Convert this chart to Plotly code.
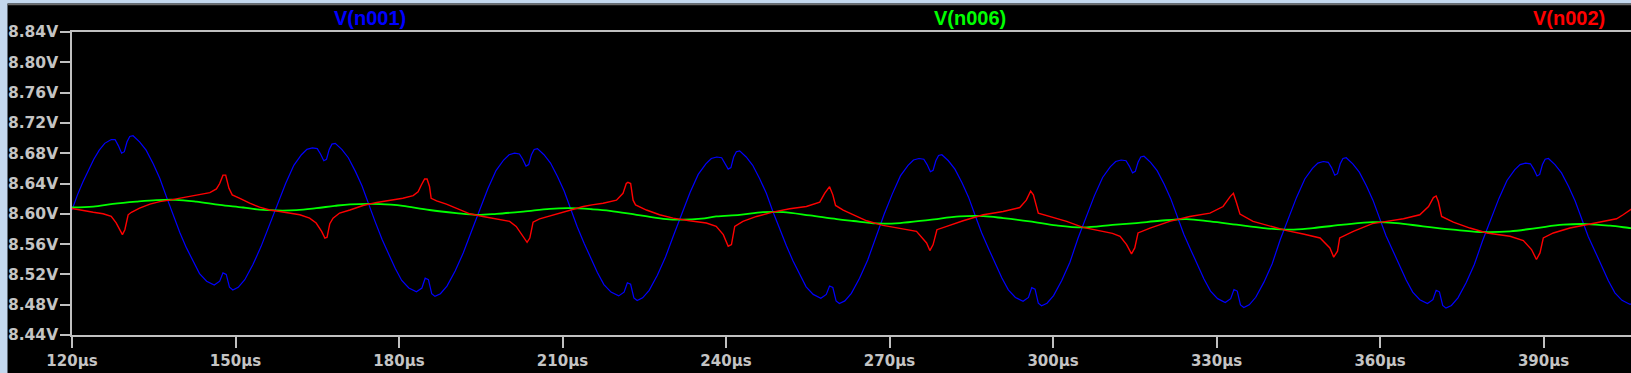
import plotly.graph_objects as go

# ---------------- data ----------------
blue_t = [120.0,121.0,122.0,123.0,124.0,125.0,126.0,
127.2,127.9,128.5,129.1,129.6,130.1,130.6,131.2,132.4,133.6,134.9,136.1,137.3,138.5,139.8,141.0,142.2,143.4,144.7,146.1,147.1,147.7,148.3,148.9,149.5,150.5,151.7,153.2,154.7,156.2,157.7,159.2,160.7,162.1,163.1,164.1,165.0,165.6,
166.2,166.7,167.2,167.7,168.3,169.5,170.7,172.0,173.2,174.4,175.6,176.9,178.1,179.3,180.5,181.8,183.2,184.2,184.8,185.4,186.0,186.6,187.6,188.8,190.3,191.8,193.3,194.8,196.3,197.8,199.2,200.2,201.2,202.1,202.7,
203.3,203.8,204.3,204.8,205.4,206.6,207.8,209.1,210.3,211.5,212.7,214.0,215.2,216.4,217.6,218.9,220.3,221.3,221.9,222.5,223.1,223.7,224.7,225.9,227.4,228.9,230.4,231.9,233.4,234.9,236.3,237.3,238.3,239.2,239.8,
240.4,240.9,241.4,241.9,242.5,243.7,244.9,246.2,247.4,248.6,249.8,251.1,252.3,253.5,254.7,256.0,257.4,258.4,259.0,259.6,260.2,260.8,261.8,263.0,264.5,266.0,267.5,269.0,270.5,272.0,273.4,274.4,275.4,276.3,276.9,
277.5,278.0,278.5,279.0,279.6,280.8,282.0,283.3,284.5,285.7,286.9,288.2,289.4,290.6,291.8,293.1,294.5,295.5,296.1,296.7,297.3,297.9,298.9,300.1,301.6,303.1,304.6,306.1,307.6,309.1,310.5,311.5,312.5,313.4,314.0,
314.6,315.1,315.6,316.1,316.7,317.9,319.1,320.4,321.6,322.8,324.0,325.3,326.5,327.7,328.9,330.2,331.6,332.6,333.2,333.8,334.4,335.0,336.0,337.2,338.7,340.2,341.7,343.2,344.7,346.2,347.6,348.6,349.6,350.5,351.1,
351.7,352.2,352.7,353.2,353.8,355.0,356.2,357.5,358.7,359.9,361.1,362.4,363.6,364.8,366.0,367.3,368.7,369.7,370.3,370.9,371.5,372.1,373.1,374.3,375.8,377.3,378.8,380.3,381.8,383.3,384.7,385.7,386.7,387.6,388.2,
388.8,389.3,389.8,390.3,390.9,392.1,393.3,394.6,395.8,397.0,398.2,399.5,400.7,401.9,403.1,404.4,405.8,406.5]

blue_v = [8.605,8.625,8.642,8.657,8.672,8.684,8.693,
8.698,8.698,8.690,8.680,8.682,8.695,8.702,8.703,8.695,8.684,8.666,8.647,8.623,8.600,8.575,8.555,8.537,8.521,8.511,8.506,8.511,8.522,8.520,8.503,8.4995,8.503,8.513,8.533,8.557,8.584,8.613,8.640,8.664,8.678,8.685,8.687,8.686,8.679,
8.670,8.672,8.685,8.692,8.693,8.685,8.674,8.656,8.637,8.613,8.590,8.566,8.546,8.528,8.512,8.502,8.497,8.502,8.515,8.513,8.4945,8.491,8.4945,8.5045,8.5245,8.5485,8.577,8.606,8.633,8.657,8.671,8.678,8.680,8.679,8.672,
8.663,8.665,8.678,8.685,8.686,8.678,8.667,8.649,8.630,8.606,8.583,8.5606,8.5406,8.5226,8.5066,8.4966,8.4916,8.4966,8.509,8.507,8.489,8.4855,8.489,8.499,8.519,8.543,8.572,8.601,8.628,8.652,8.666,8.673,8.675,8.674,8.667,
8.659,8.661,8.675,8.682,8.683,8.675,8.664,8.646,8.627,8.603,8.580,8.5576,8.5376,8.5196,8.5036,8.4936,8.4886,8.4936,8.5047,8.5027,8.485,8.4816,8.485,8.495,8.515,8.539,8.570,8.599,8.626,8.650,8.664,8.671,8.673,8.672,8.665,
8.6555,8.6575,8.670,8.677,8.678,8.670,8.659,8.641,8.622,8.598,8.575,8.5536,8.5336,8.5156,8.4996,8.4896,8.4846,8.4896,8.5025,8.5005,8.482,8.4785,8.482,8.492,8.512,8.536,8.568,8.597,8.624,8.648,8.662,8.669,8.671,8.670,8.663,
8.654,8.656,8.668,8.675,8.676,8.668,8.657,8.639,8.620,8.596,8.573,8.552,8.532,8.514,8.498,8.488,8.483,8.488,8.500,8.498,8.4798,8.4763,8.4798,8.4898,8.5098,8.5338,8.566,8.595,8.622,8.646,8.660,8.667,8.669,8.668,8.661,
8.651,8.653,8.666,8.673,8.674,8.666,8.655,8.637,8.618,8.594,8.571,8.5506,8.5306,8.5126,8.4966,8.4866,8.4816,8.4866,8.499,8.497,8.479,8.4755,8.479,8.489,8.509,8.533,8.564,8.593,8.620,8.644,8.658,8.665,8.667,8.666,8.659,
8.650,8.652,8.665,8.672,8.673,8.665,8.654,8.636,8.617,8.593,8.570,8.5497,8.5297,8.5117,8.4957,8.4857,8.4807,8.481]

red_t = [120.0,122.0,123.9,125.7,127.2,128.1,128.75,129.25,129.7,130.3,130.9,132.4,134.3,136.1,137.9,139.8,141.6,143.4,145.3,146.5,147.1,147.7,148.2,148.8,149.4,150.8,152.6,154.4,156.3,158.1,159.9,161.8,163.6,164.8,165.8,166.4,166.8,167.3,167.9,169.1,171.0,173.4,175.9,178.3,180.7,182.6,183.5,184.1,184.7,185.15,185.6,185.9,186.9,188.7,190.5,193.0,195.4,197.9,200.3,201.5,202.5,203.5,204.0,204.6,205.8,208.9,211.3,213.8,215.4,217.45,219.9,221.1,221.7,222.0,222.5,222.95,223.4,225.4,227.8,230.3,233.3,236.4,238.2,239.5,240.4,241.0,241.6,243.1,245.6,248.6,251.7,254.75,257.2,258.1,259.0,259.6,260.1,261.5,263.2,265.8,268.8,271.9,274.95,276.8,277.4,278.0,278.7,280.5,283.5,287.2,290.85,293.9,295.1,295.9,296.4,297.3,299.4,302.5,305.5,308.6,310.9,312.3,313.5,314.4,315.0,315.6,317.8,321.4,325.1,328.8,331.2,332.5,333.1,333.7,334.3,336.7,339.8,342.9,345.9,349.0,350.8,351.5,352.2,352.6,355.1,358.6,361.2,364.3,367.3,368.9,369.8,370.3,370.7,371.3,373.45,376.5,379.6,383.85,386.3,387.8,388.7,389.35,389.96,391.8,394.85,397.9,401.0,403.4,404.6,405.9,406.3]

red_v = [8.607,8.604,8.602,8.600,8.5965,8.588,8.579,8.5725,8.579,8.5987,8.602,8.6074,8.6127,8.616,8.618,8.6205,8.6227,8.625,8.628,8.6328,8.640,8.651,8.651,8.6336,8.625,8.6205,8.614,8.6087,8.605,8.603,8.601,8.5987,8.5943,8.5878,8.5768,8.568,8.569,8.587,8.5943,8.601,8.605,8.611,8.615,8.6175,8.6205,8.624,8.629,8.638,8.646,8.646,8.636,8.6205,8.617,8.6127,8.6074,8.600,8.5965,8.5934,8.590,8.5834,8.5725,8.5624,8.568,8.589,8.5934,8.5996,8.605,8.6096,8.6118,8.614,8.618,8.627,8.640,8.6415,8.640,8.618,8.6118,8.605,8.5987,8.5943,8.5908,8.5878,8.5834,8.5725,8.5572,8.5594,8.5834,8.590,8.5965,8.6022,8.6066,8.6096,8.6153,8.627,8.6358,8.625,8.611,8.605,8.5993,8.5908,8.5847,8.5812,8.5768,8.5615,8.5515,8.5594,8.579,8.5834,8.5908,8.5987,8.603,8.6083,8.618,8.630,8.625,8.6009,8.5965,8.590,8.582,8.5777,8.5742,8.5703,8.5594,8.5471,8.555,8.5747,8.5812,8.590,8.5965,8.6009,8.6096,8.6227,8.627,8.614,8.5996,8.590,8.5834,8.5777,8.5733,8.5681,8.555,8.5428,8.5506,8.5681,8.5768,8.5870,8.590,8.5934,8.5987,8.6096,8.6214,8.6236,8.6162,8.5965,8.5891,8.5812,8.5747,8.5703,8.5646,8.5528,8.5397,8.5484,8.5681,8.5747,8.5812,8.5856,8.5891,8.5934,8.5987,8.6052,8.607]

green_t = [120.0,123.9,127.5,131.8,135.5,139.0,142.8,147.1,151.4,154.4,157.5,161.2,164.8,168.2,171.0,175.0,178.5,180.7,185.6,190.5,194.2,197.9,202.8,207.7,211.3,215.4,218.7,223.6,228.5,232.0,235.5,238.2,242.5,246.8,250.5,255.4,260.3,263.4,267.6,271.9,277.4,282.9,287.2,290.85,295.75,300.6,305.5,310.9,315.3,319.6,324.5,328.8,333.7,338.6,343.5,347.7,353.3,358.6,363.05,367.9,373.45,378.3,383.85,388.7,393.6,397.9,402.2,405.9,406.3]

green_v = [8.6085,8.6096,8.613,8.616,8.618,8.6185,8.616,8.6118,8.6083,8.6055,8.6044,8.6048,8.6074,8.6105,8.6125,8.6132,8.612,8.6105,8.605,8.601,8.5987,8.600,8.603,8.6066,8.6074,8.606,8.604,8.5987,8.5934,8.5922,8.5935,8.5965,8.5987,8.6022,8.6022,8.5978,8.593,8.5905,8.5873,8.5878,8.5921,8.5965,8.5969,8.5943,8.590,8.5847,8.582,8.5853,8.5878,8.5908,8.593,8.590,8.5856,8.5812,8.579,8.5812,8.5856,8.589,8.5878,8.5834,8.579,8.576,8.5768,8.5812,8.5856,8.5865,8.5843,8.5812,8.581]

x_ticks = [120, 150, 180, 210, 240, 270, 300, 330, 360, 390]
x_tick_text = ["120µs", "150µs", "180µs", "210µs", "240µs", "270µs", "300µs", "330µs", "360µs", "390µs"]
y_ticks = [8.44, 8.48, 8.52, 8.56, 8.60, 8.64, 8.68, 8.72, 8.76, 8.80, 8.84]
y_tick_text = ["8.44V", "8.48V", "8.52V", "8.56V", "8.60V", "8.64V", "8.68V", "8.72V", "8.76V", "8.80V", "8.84V"]

series_names = ["V(n001)", "V(n006)", "V(n002)"]
series_colors = ["#0000FF", "#00FF00", "#FF0000"]

# ---------------- figure ----------------
W, H = 1631, 373
ML, MR, MT, MB = 72, 0, 32, 38
PW, PH = W - ML - MR, H - MT - MB

def px2x(px):
    return (px - ML) / PW

def py2y(py):
    return (H - MB - py) / PH

fig = go.Figure()
fig.add_trace(go.Scatter(x=blue_t, y=blue_v, mode="lines", name=series_names[0],
                         line=dict(color=series_colors[0], width=1.2)))
fig.add_trace(go.Scatter(x=green_t, y=green_v, mode="lines", name=series_names[1],
                         line=dict(color=series_colors[1], width=1.8, shape="spline")))
fig.add_trace(go.Scatter(x=red_t, y=red_v, mode="lines", name=series_names[2],
                         line=dict(color=series_colors[2], width=1.4)))

axis_col = "#C0C0C0"
x_tick_font = dict(family="DejaVu Sans", size=15, color="#C4C4C4", weight="bold")
y_tick_font = dict(family="DejaVu Sans", size=15.5, color="#C4C4C4", weight="bold")

fig.update_layout(
    width=W, height=H,
    margin=dict(l=ML, r=MR, t=MT, b=MB, pad=0),
    paper_bgcolor="#000000",
    plot_bgcolor="#000000",
    showlegend=False,
    xaxis=dict(range=[120, 406.05], tickvals=x_ticks, ticktext=x_tick_text,
               showgrid=False, zeroline=False, showline=True, mirror=True,
               linecolor=axis_col, linewidth=1.5, ticks="outside", ticklen=11,
               tickcolor=axis_col, tickwidth=1.5, tickfont=x_tick_font),
    yaxis=dict(range=[8.44, 8.84], tickvals=y_ticks, ticktext=y_tick_text,
               showgrid=False, zeroline=False, showline=True, mirror=False,
               linecolor=axis_col, linewidth=1.5, ticks="outside", ticklen=10,
               tickcolor=axis_col, tickwidth=1.5, tickfont=y_tick_font,
               ticklabelstandoff=-1),
)

# window frame (light blue strips + dark separator line)
frame_col = "#C4D8EE"
fig.add_shape(type="rect", xref="paper", yref="paper", x0=px2x(0), x1=px2x(7.5),
              y0=py2y(H), y1=py2y(0), fillcolor=frame_col, line_width=0, layer="above")
fig.add_shape(type="rect", xref="paper", yref="paper", x0=px2x(0), x1=px2x(W),
              y0=py2y(3.5), y1=py2y(0), fillcolor=frame_col, line_width=0, layer="above")
fig.add_shape(type="line", xref="paper", yref="paper", x0=px2x(7.5), x1=px2x(W),
              y0=py2y(4.5), y1=py2y(4.5), line=dict(color="#6E6E6E", width=1.5), layer="above")

# series labels on top
label_centres = [370, 970, 1569]
for name, col, cx in zip(series_names, series_colors, label_centres):
    fig.add_annotation(x=px2x(cx), y=py2y(17.5), xref="paper", yref="paper",
                       text="<b>" + name + "</b>", showarrow=False,
                       xanchor="center", yanchor="middle",
                       font=dict(family="Liberation Sans, Arial", size=20, color=col))

fig.write_html("out.html")
